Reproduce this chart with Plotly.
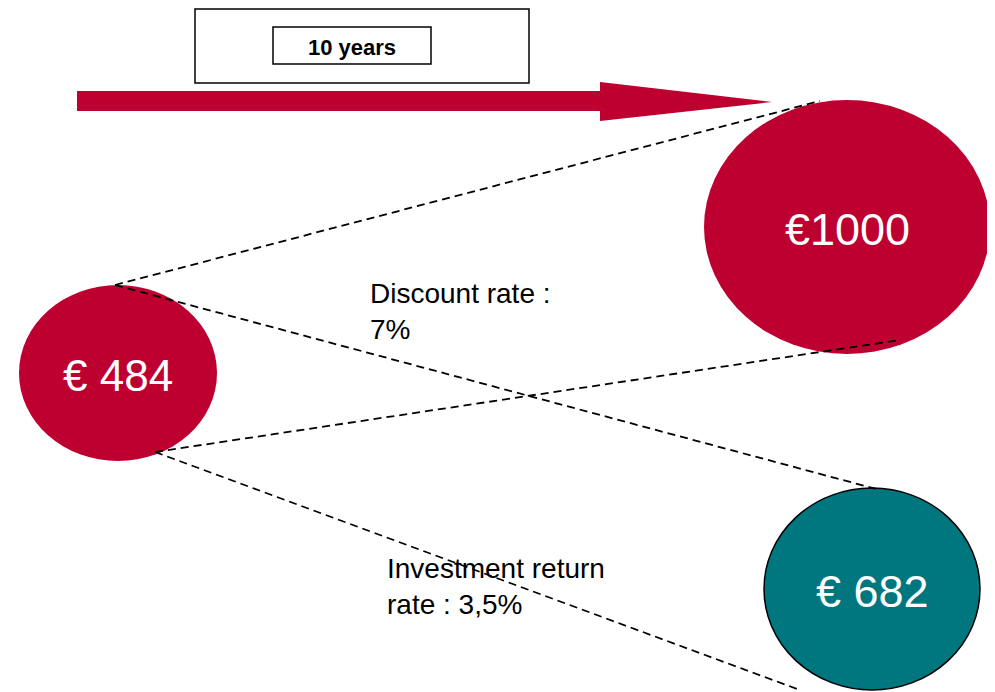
import plotly.graph_objects as go

# ---- data ----
values = [484, 1000, 682]
value_labels = ["€ 484", "€1000", "€ 682"]
years = 10
period_label = f"{years} years"
rate_labels = ["Discount rate :<br>7%", "Investment return<br>rate : 3,5%"]

RED = "#BE0030"
TEAL = "#00767F"
FONT = "Liberation Sans, Arial"

W, H = 995, 692
OFF = 8  # page body margin
fig = go.Figure()

# invisible trace to establish axes
fig.add_trace(go.Scatter(x=[OFF, W], y=[OFF, H], mode="markers",
                         marker=dict(opacity=0), hoverinfo="skip", showlegend=False))

shapes = []
# top outer box and inner label box
shapes.append(dict(type="rect", x0=195, x1=529, y0=9, y1=83,
                   line=dict(color="black", width=1.5), fillcolor="white"))
shapes.append(dict(type="rect", x0=273, x1=431, y0=27, y1=64,
                   line=dict(color="black", width=1.5), fillcolor="white"))
# arrow shaft + head
shapes.append(dict(type="rect", x0=77, x1=602, y0=91, y1=111,
                   line=dict(width=0), fillcolor=RED))
shapes.append(dict(type="path", path="M 600,82 L 772,102 L 600,121 Z",
                   line=dict(width=0), fillcolor=RED))

# circles (value bubbles)
circles = [
    dict(cx=118, cy=373, rx=99, ry=88, color=RED, outline=None),
    dict(cx=847, cy=227, rx=143, ry=127, color=RED, outline=None),
    dict(cx=872, cy=589, rx=108, ry=101, color=TEAL, outline="black"),
]
for c in circles:
    shapes.append(dict(type="circle", x0=c["cx"] - c["rx"], x1=c["cx"] + c["rx"],
                       y0=c["cy"] - c["ry"], y1=c["cy"] + c["ry"],
                       fillcolor=c["color"],
                       line=dict(color=c["outline"] or c["color"], width=1.5 if c["outline"] else 0)))

# dashed connector lines
conn = [((115, 285), (820, 101)),
        ((115, 285), (880, 490)),
        ((155, 452), (900, 340)),
        ((155, 452), (800, 690))]
for (x0, y0), (x1, y1) in conn:
    shapes.append(dict(type="line", x0=x0, y0=y0, x1=x1, y1=y1,
                       line=dict(color="black", width=1.8, dash="8px,5px")))

annotations = []
annotations.append(dict(x=352, y=47, text=f"<b>{period_label}</b>", showarrow=False,
                        font=dict(family=FONT, size=22, color="black")))
sizes = [44, 45, 45]
for c, lab, s in zip(circles, value_labels, sizes):
    annotations.append(dict(x=c["cx"], y=c["cy"] + 2, text=lab, showarrow=False,
                            font=dict(family=FONT, size=s, color="white")))
annotations.append(dict(x=368, y=276, text=rate_labels[0], showarrow=False,
                        xanchor="left", yanchor="top", align="left",
                        font=dict(family=FONT, size=28, color="black")))
annotations.append(dict(x=385, y=551, text=rate_labels[1], showarrow=False,
                        xanchor="left", yanchor="top", align="left",
                        font=dict(family=FONT, size=28, color="black")))

fig.update_layout(
    width=W - OFF, height=H - OFF, margin=dict(l=0, r=0, t=0, b=0),
    paper_bgcolor="white", plot_bgcolor="white",
    xaxis=dict(range=[OFF, W], visible=False, fixedrange=True),
    yaxis=dict(range=[H, OFF], visible=False, fixedrange=True),
    shapes=shapes, annotations=annotations, showlegend=False,
)
fig.write_html("out.html")
